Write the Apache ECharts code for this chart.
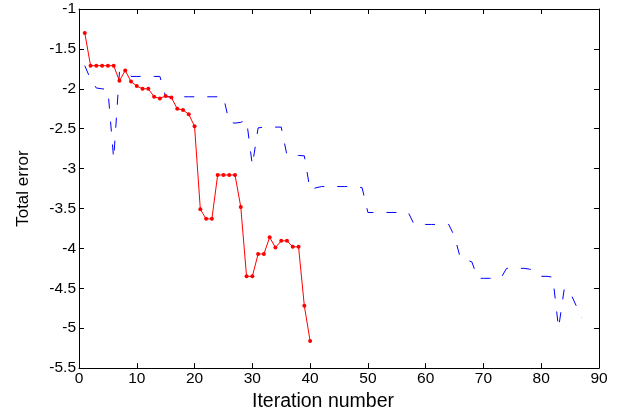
<!DOCTYPE html>
<html>
<head>
<meta charset="utf-8">
<script src="https://cdn.jsdelivr.net/npm/echarts@6/dist/echarts.min.js"></script>
<style>html,body{margin:0;padding:0;background:#fff}#c{width:623px;height:417px}</style>
</head>
<body>
<div id="c"></div>
<script>
// Red series: iterations 1..40
var redValues = [-1.30, -1.71, -1.71, -1.71, -1.71, -1.71, -1.90, -1.77, -1.91, -1.965,
  -2.00, -2.00, -2.10, -2.12, -2.09, -2.11, -2.25, -2.265, -2.32, -2.47,
  -3.51, -3.63, -3.63, -3.08, -3.08, -3.08, -3.08, -3.48, -4.35, -4.35,
  -4.07, -4.07, -3.86, -3.99, -3.905, -3.905, -3.98, -3.98, -4.72, -5.16];
// Blue dashed series: iterations 1..87
var blueValues = [-1.71, -1.88, -1.99, -2.00, -2.01, -2.88, -1.79, -1.78, -1.845, -1.845,
  -1.845, -1.845, -1.845, -1.845, -2.10, -2.10, -2.10, -2.10, -2.10, -2.10,
  -2.10, -2.10, -2.10, -2.10, -2.10, -2.42, -2.43, -2.42, -2.39, -2.96,
  -2.49, -2.48, -2.48, -2.48, -2.48, -2.835, -2.835, -2.835, -2.84, -3.27,
  -3.24, -3.225, -3.225, -3.225, -3.225, -3.225, -3.225, -3.225, -3.24, -3.55,
  -3.55, -3.55, -3.55, -3.55, -3.55, -3.55, -3.55, -3.70, -3.70, -3.70,
  -3.70, -3.70, -3.70, -3.70, -3.85, -4.12, -4.14, -4.17, -4.375, -4.375,
  -4.375, -4.375, -4.375, -4.25, -4.25, -4.25, -4.25, -4.26, -4.28, -4.35,
  -4.35, -4.36, -5.00, -4.50, -4.55, -4.71, -4.87];
var xTicks = {min: 0, max: 90, interval: 10};
var yTicks = {min: -5.5, max: -1, interval: 0.5};
var xTitle = 'Iteration number';
var yTitle = 'Total error';

function pairs(vals) { return vals.map(function (v, i) { return [i + 1, v]; }); }

var font = 'Liberation Sans, Arial, Helvetica, sans-serif';
var axisCommon = {
  axisLine: {show: true, onZero: false, lineStyle: {color: '#000', width: 1}},
  axisTick: {show: true, inside: true, length: 5, lineStyle: {color: '#000', width: 1}},
  splitLine: {show: false}
};
var chart = echarts.init(document.getElementById('c'), null, {renderer: 'canvas'});
chart.setOption({
  animation: false,
  backgroundColor: '#fff',
  grid: {left: 79, right: 24, top: 9, bottom: 47},
  xAxis: [
    Object.assign({
      type: 'value', position: 'bottom', min: xTicks.min, max: xTicks.max, interval: xTicks.interval,
      name: xTitle, nameLocation: 'middle', nameGap: 23,
      nameTextStyle: {fontFamily: font, fontSize: 19.5, color: '#000', padding: [0, 32, 0, 0]},
      axisLabel: {fontFamily: font, fontSize: 15.5, color: '#000', margin: 3}
    }, axisCommon),
    Object.assign({
      type: 'value', position: 'top', min: xTicks.min, max: xTicks.max, interval: xTicks.interval,
      axisLabel: {show: false}
    }, axisCommon)
  ],
  yAxis: [
    Object.assign({
      type: 'value', position: 'left', min: yTicks.min, max: yTicks.max, interval: yTicks.interval,
      name: yTitle, nameLocation: 'middle', nameGap: 47, nameRotate: 90,
      nameTextStyle: {fontFamily: font, fontSize: 17, color: '#000'},
      axisLabel: {fontFamily: font, fontSize: 15.5, color: '#000', margin: 3}
    }, axisCommon),
    Object.assign({
      type: 'value', position: 'right', min: yTicks.min, max: yTicks.max, interval: yTicks.interval,
      axisLabel: {show: false}
    }, axisCommon)
  ],
  series: [
    {
      type: 'line', data: pairs(blueValues), xAxisIndex: 0, yAxisIndex: 0,
      showSymbol: false, symbol: 'none',
      lineStyle: {color: '#0000ff', width: 1, type: [10, 13]},
      z: 2
    },
    {
      type: 'line', data: pairs(redValues), xAxisIndex: 0, yAxisIndex: 0,
      symbol: 'circle', symbolSize: 4,
      itemStyle: {color: '#ff0000'},
      lineStyle: {color: '#ff0000', width: 1},
      z: 3
    }
  ]
});
</script>
</body>
</html>
